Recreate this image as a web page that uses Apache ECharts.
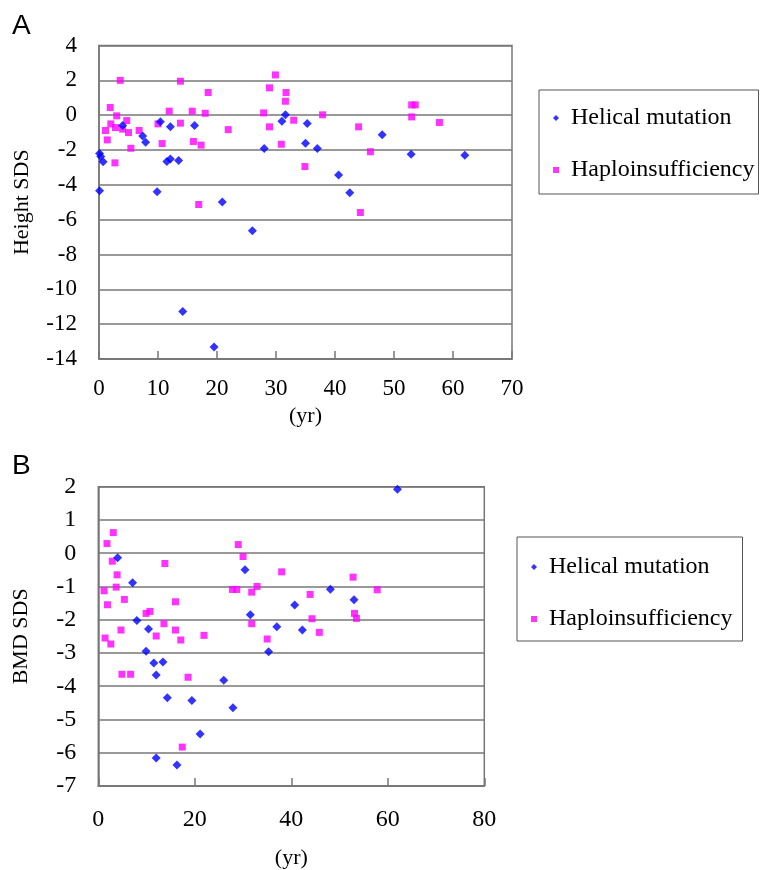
<!DOCTYPE html>
<html>
<head>
<meta charset="UTF-8">
<title>Height SDS / BMD SDS</title>
<script type="text/javascript" src="https://cdn.jsdelivr.net/npm/echarts@6/dist/echarts.min.js"></script>
<style>
  html, body { margin: 0; padding: 0; background: #fff; }
</style>
</head>
<body>
<div id="main" style="width: 764px; height: 870px;"></div>
<script type="text/javascript">
// panel A: age (yr) vs height SDS
var helicalAgeA = [4.0, 10.4, 12.1, 16.2, 7.4, 7.9, 0.1, 0.3, 0.7, 11.5, 12.1, 13.5, 0.1, 9.85, 20.9,
  31.6, 31.0, 35.3, 28.0, 35.0, 37.0, 40.6, 42.5, 48.0, 52.9, 62.0, 26.0, 14.2, 19.5];
var helicalHeightA = [-0.6, -0.38, -0.67, -0.6, -1.2, -1.55, -2.2, -2.37, -2.68, -2.66, -2.51, -2.6, -4.34, -4.4, -4.99,
  0.02, -0.35, -0.48, -1.91, -1.61, -1.91, -3.44, -4.46, -1.13, -2.24, -2.3, -6.64, -11.27, -13.31];

var haploAgeA = [3.6, 13.8, 18.5, 1.9, 3.0, 11.9, 15.8, 18.0, 2.0, 4.7, 1.1, 2.8, 4.0, 5.0, 6.8, 10.0, 13.8, 1.4, 5.4, 10.7,
  16.0, 17.3, 2.7, 16.9, 29.9, 28.9, 31.7, 31.6, 27.9, 37.9, 33.0, 21.9, 28.9, 30.9, 34.9,
  53.0, 53.6, 53.0, 57.7, 44.0, 46.0, 44.3];
var haploHeightA = [2.0, 1.95, 1.3, 0.44, -0.04, 0.23, 0.23, 0.11, -0.5, -0.31, -0.88, -0.71, -0.8, -1.0, -0.88, -0.5, -0.46, -1.42, -1.9, -1.63,
  -1.51, -1.72, -2.74, -5.13, 2.31, 1.57, 1.3, 0.8, 0.13, 0.02, -0.29, -0.83, -0.67, -1.67, -2.95,
  0.59, 0.59, -0.1, -0.42, -0.67, -2.1, -5.59];

// panel B: age (yr) vs BMD SDS
var helicalAgeB = [4.0, 7.1, 8.0, 10.4, 30.4, 48.1, 40.7, 31.5, 37.0, 42.3, 62.0, 53.0,
  9.9, 11.5, 13.4, 12.0, 26.0, 14.3, 19.4, 27.9, 21.1, 12.0, 16.3, 35.3];
var helicalBmdB = [-0.14, -0.89, -2.02, -2.28, -0.5, -1.08, -1.56, -1.85, -2.21, -2.31, 1.92, -1.4,
  -2.95, -3.3, -3.27, -3.66, -3.82, -4.35, -4.43, -4.65, -5.44, -6.16, -6.37, -2.96];

var haploAgeB = [3.1, 1.8, 2.9, 13.8, 3.9, 3.7, 1.2, 16.0, 1.9, 5.4, 9.9, 10.7, 13.6, 16.0, 4.7, 12.0, 17.1, 21.9, 1.4, 2.6,
  29.0, 30.0, 38.0, 27.8, 28.7, 32.9, 31.8, 43.9, 44.3, 31.8, 45.8, 35.0,
  52.8, 57.8, 53.1, 53.5, 4.9, 6.7, 18.6, 17.4];
var haploBmdB = [0.62, 0.29, -0.24, -0.31, -0.65, -1.02, -1.13, -1.46, -1.55, -1.39, -1.81, -1.75, -2.12, -2.31, -2.31, -2.49, -2.61, -2.47, -2.55, -2.73,
  0.26, -0.1, -0.56, -1.09, -1.09, -1.0, -1.17, -1.24, -1.97, -2.12, -2.38, -2.58,
  -0.72, -1.1, -1.81, -1.96, -3.64, -3.64, -3.73, -5.83];

var seriesNames = ['Helical mutation', 'Haploinsufficiency'];

function pairs(xs, ys) {
  return xs.map(function (x, i) { return [x, ys[i]]; });
}

var serif = 'Liberation Serif';
var gray = '#777';

function xAxisFor(idx, max, interval, size, margin, gap) {
  return {
    gridIndex: idx, type: 'value', min: 0, max: max, interval: interval,
    name: '(yr)', nameLocation: 'middle', nameGap: gap,
    nameTextStyle: { fontFamily: serif, fontSize: 22, color: '#000' },
    axisLine: { onZero: false, lineStyle: { color: gray, width: 1.5 } },
    axisTick: { inside: true, length: 8, lineStyle: { color: gray, width: 1.5 } },
    axisLabel: { fontFamily: serif, fontSize: size, color: '#000', margin: margin },
    splitLine: { show: false }
  };
}

function yAxisFor(idx, min, max, interval, name, size) {
  return {
    gridIndex: idx, type: 'value', min: min, max: max, interval: interval,
    name: name, nameLocation: 'middle', nameGap: 66, nameRotate: 90,
    nameTextStyle: { fontFamily: serif, fontSize: 22, color: '#000' },
    axisLine: { onZero: false, lineStyle: { color: gray, width: 1.5 } },
    axisTick: { show: false },
    axisLabel: { fontFamily: serif, fontSize: size, color: '#000', margin: 22 },
    splitLine: { lineStyle: { color: gray, width: 1.5 } }
  };
}

function legendFor(left, top, padding) {
  return {
    left: left, top: top, orient: 'vertical',
    data: seriesNames,
    itemWidth: 6, itemHeight: 6, itemGap: 28,
    padding: padding,
    borderColor: '#555', borderWidth: 1,
    selectedMode: false,
    textStyle: { fontFamily: serif, fontSize: 24, color: '#000', padding: [0, 0, 0, 7] }
  };
}

var myChart = echarts.init(document.getElementById('main'));
myChart.setOption({
  animation: false,
  backgroundColor: '#fff',
  graphic: [
    { type: 'text', left: 12, top: 12, style: { text: 'A', fontFamily: 'Liberation Sans', fontSize: 28, fill: '#000' } },
    { type: 'text', left: 12, top: 452, style: { text: 'B', fontFamily: 'Liberation Sans', fontSize: 28, fill: '#000' } }
  ],
  grid: [
    { left: 99, top: 45.5, width: 413, height: 313.5, show: true, borderColor: gray, borderWidth: 1.5 },
    { left: 98.3, top: 486.7, width: 386, height: 302.6, show: true, borderColor: gray, borderWidth: 1.5 }
  ],
  legend: [
    legendFor(539, 90, [16, 4, 12, 14]),
    legendFor(517, 537, [18, 10, 10, 14])
  ],
  xAxis: [
    xAxisFor(0, 70, 10, 23, 18, 46),
    xAxisFor(1, 80, 20, 24, 22, 61)
  ],
  yAxis: [
    yAxisFor(0, -14, 4, 2, 'Height SDS', 23),
    yAxisFor(1, -7, 2, 1, 'BMD SDS', 24)
  ],
  series: [
    {
      name: seriesNames[1], type: 'scatter', xAxisIndex: 0, yAxisIndex: 0,
      symbol: 'rect', symbolSize: 7, itemStyle: { color: '#ff00ff' },
      data: pairs(haploAgeA, haploHeightA)
    },
    {
      name: seriesNames[0], type: 'scatter', xAxisIndex: 0, yAxisIndex: 0,
      symbol: 'diamond', symbolSize: 9, itemStyle: { color: '#0000ff' },
      data: pairs(helicalAgeA, helicalHeightA)
    },
    {
      name: seriesNames[1], type: 'scatter', xAxisIndex: 1, yAxisIndex: 1,
      symbol: 'rect', symbolSize: 7, itemStyle: { color: '#ff00ff' },
      data: pairs(haploAgeB, haploBmdB)
    },
    {
      name: seriesNames[0], type: 'scatter', xAxisIndex: 1, yAxisIndex: 1,
      symbol: 'diamond', symbolSize: 9, itemStyle: { color: '#0000ff' },
      data: pairs(helicalAgeB, helicalBmdB)
    }
  ]
});
</script>
</body>
</html>
